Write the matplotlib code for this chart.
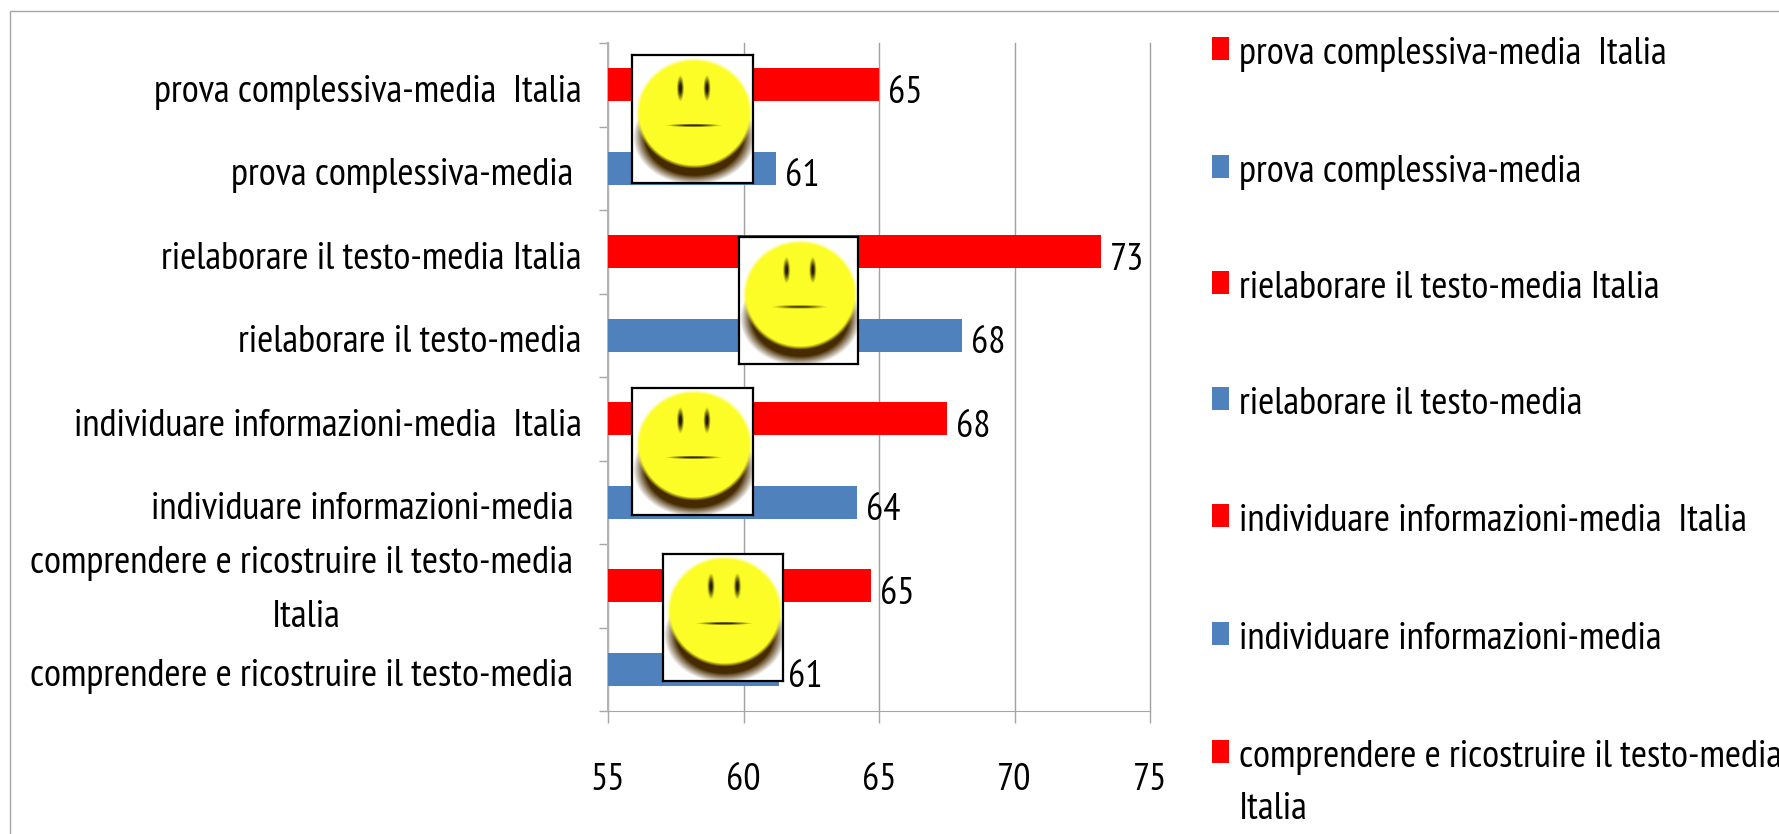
import numpy as np
import matplotlib
matplotlib.use('Agg')
import matplotlib.pyplot as plt
from matplotlib.patches import Rectangle
from matplotlib.transforms import ScaledTranslation

plt.rcParams['font.family'] = ['PT Sans Narrow', 'Liberation Sans', 'DejaVu Sans']

W, H = 1779, 834

labels = ['prova complessiva-media  Italia', 'prova complessiva-media ',
          'rielaborare il testo-media Italia', 'rielaborare il testo-media',
          'individuare informazioni-media  Italia', 'individuare informazioni-media ',
          'comprendere e ricostruire il testo-media \nItalia',
          'comprendere e ricostruire il testo-media ']
values = [65.0, 61.2, 73.2, 68.05, 67.5, 64.2, 64.7, 61.3]
shown = [65, 61, 73, 68, 68, 64, 65, 61]
colors = ['#ff0000', '#4f81bd'] * 4
xticks = [55, 60, 65, 70, 75]

legend_labels = ['prova complessiva-media  Italia', 'prova complessiva-media',
                 'rielaborare il testo-media Italia', 'rielaborare il testo-media',
                 'individuare informazioni-media  Italia', 'individuare informazioni-media',
                 'comprendere e ricostruire il testo-media\nItalia']
legend_colors = colors[:7]

# pixel layout of the legend rows and of the pasted smileys (left, top, right, bottom)
legend_rows = [50, 168, 284, 400, 517, 635, 753]
faces = [(632, 55, 753, 183), (739, 237, 858, 364), (632, 388, 753, 515), (663, 554, 783, 681)]


def px_axes(left, top, right, bottom):
    return [left / W, 1 - bottom / H, (right - left) / W, (bottom - top) / H]


def smiley(w=121, h=128):
    yy, xx = np.mgrid[0:h, 0:w]
    x = (xx + 0.5) / w
    y = (yy + 0.5) / h
    img = np.ones((h, w, 3))
    # shadow under the face
    d = np.sqrt(((x - 0.515) / 0.46) ** 2 + ((y - 0.64) / 0.34) ** 2)
    a = np.clip((1.1 - d) / 0.22, 0, 1)[..., None]
    img = img * (1 - a) + np.array([0.28, 0.17, 0.0]) * a
    # yellow disc
    d = np.sqrt(((x - 0.515) / 0.47) ** 2 + ((y - 0.455) / 0.42) ** 2)
    a = np.clip((1.03 - d) / 0.07, 0, 1)[..., None]
    img = img * (1 - a) + np.array([0.99, 0.99, 0.15]) * a
    # eyes and mouth
    for cx in (0.40, 0.62):
        d = np.sqrt(((x - cx) / 0.022) ** 2 + ((y - 0.26) / 0.075) ** 2)
        a = np.clip(1.4 - d, 0, 1)[..., None]
        img = img * (1 - a) + np.array([0.15, 0.12, 0.0]) * a
    d = np.sqrt(((x - 0.51) / 0.17) ** 2 + ((y - 0.55) / 0.01) ** 2)
    a = np.clip(1.4 - d, 0, 1)[..., None]
    img = img * (1 - a) + np.array([0.2, 0.17, 0.0]) * a
    return img


fig = plt.figure(figsize=(W / 100, H / 100), dpi=100, facecolor='white')
fig.add_artist(Rectangle((10 / W, -0.1), 1.2, 1 - 11 / H + 0.1, transform=fig.transFigure,
                         fill=False, edgecolor='#a6a6a6', linewidth=1))

ax = fig.add_axes(px_axes(608, 43, 1150, 711))
y = np.arange(len(values))
ax.barh(y, values, left=0, height=0.4, color=colors, zorder=3)
ax.set_xlim(55, 75)
ax.set_ylim(len(values) - 0.5, -0.5)
ax.set_xticks(xticks)
ax.grid(axis='x', color='#a0a0a0', linewidth=1, zorder=0, clip_on=False)
ax.set_yticks(y)
ax.set_yticklabels(labels, multialignment='center', fontsize=28.2, linespacing=1.7)
ax.set_yticks(np.arange(len(values) + 1) - 0.5, minor=True)
ax.tick_params(axis='y', which='major', length=0, pad=19)
ax.tick_params(axis='y', which='minor', length=6.5, width=1, color='#a6a6a6')
ax.tick_params(axis='x', length=8.5, width=1, color='#a6a6a6', labelsize=27.5, pad=29)
# tick_params resets the transforms, so nudge the labels afterwards
for lab in ax.get_yticklabels():
    shift = 6 if '\n' in lab.get_text() else -2.5
    lab.set_transform(lab.get_transform() + ScaledTranslation(0, shift / 72, fig.dpi_scale_trans))
for s in ('top', 'right'):
    ax.spines[s].set_visible(False)
ax.spines['left'].set_color('#b4b4b4')
ax.spines['left'].set_linewidth(1.5)
ax.spines['bottom'].set_color('#a6a6a6')

for yi, v, t in zip(y, values, shown):
    ax.annotate(str(t), (v, yi), xytext=(6.5, -6), textcoords='offset points',
                va='center', ha='left', fontsize=27.5, zorder=4)

for row, lab, c in zip(legend_rows, legend_labels, legend_colors):
    fig.add_artist(Rectangle((1212 / W, 1 - (row + 10) / H), 17 / W, 23 / H,
                             transform=fig.transFigure, facecolor=c, edgecolor='none'))
    for i, line in enumerate(lab.split('\n')):
        fig.text(1239 / W, 1 - (row + 14 + 52 * i) / H, line, fontsize=28.2, ha='left', va='baseline')

for box in faces:
    fa = fig.add_axes(px_axes(*box), zorder=5)
    fa.imshow(smiley(), aspect='auto', interpolation='bilinear')
    fa.set_xticks([])
    fa.set_yticks([])
    for s in fa.spines.values():
        s.set_color('black')
        s.set_linewidth(1.6)

fig.savefig('out.png', dpi=100)
